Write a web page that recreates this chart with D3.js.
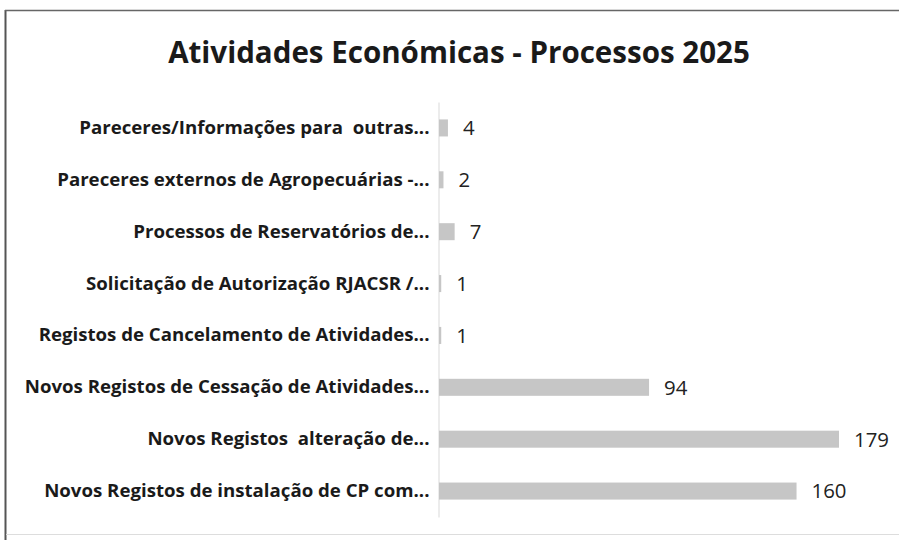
<!DOCTYPE html>
<html>
<head>
<meta charset="utf-8">
<script src="https://cdn.jsdelivr.net/npm/d3@7/dist/d3.min.js"></script>
<style>
  html, body { margin: 0; padding: 0; background: #fff; }
  svg { display: block; }
  text { white-space: pre; }
</style>
</head>
<body>
<svg id="chart" width="899" height="540"></svg>
<script>
// Categories, top to bottom as drawn
const categories = [
  "Pareceres/Informações para  outras...",
  "Pareceres externos de Agropecuárias -...",
  "Processos de Reservatórios de...",
  "Solicitação de Autorização RJACSR /...",
  "Registos de Cancelamento de Atividades...",
  "Novos Registos de Cessação de Atividades...",
  "Novos Registos  alteração de...",
  "Novos Registos de instalação de CP com..."
];
const values = [4, 2, 7, 1, 1, 94, 179, 160];
const chartTitle = "Atividades Económicas - Processos 2025";

const svg = d3.select("#chart");
const W = 899, H = 540;
const font = "'Open Sans', sans-serif";

// Scale a text's font size so that it spans the given width
function fitSize(sel, width) {
  const node = sel.node();
  const fs = parseFloat(sel.attr("font-size"));
  const len = node.getComputedTextLength();
  return fs * width / len;
}

// Outer frame: dark left/top edges, light bottom edge
svg.append("line").attr("x1", 5.5).attr("x2", 5.5).attr("y1", 10).attr("y2", H)
  .attr("stroke", "#555").attr("stroke-width", 2);
svg.append("line").attr("x1", 5).attr("x2", W).attr("y1", 10.5).attr("y2", 10.5)
  .attr("stroke", "#666").attr("stroke-width", 1.5);
svg.append("line").attr("x1", 6).attr("x2", W).attr("y1", 534.5).attr("y2", 534.5)
  .attr("stroke", "#ddd").attr("stroke-width", 1);

// Title
const title = svg.append("text")
  .attr("x", 459).attr("y", 63)
  .attr("text-anchor", "middle")
  .attr("font-family", font)
  .attr("font-weight", "bold")
  .attr("font-size", 26)
  .attr("fill", "#1a1a1a")
  .text(chartTitle);
title.attr("font-size", fitSize(title, 582));

const margin = { left: 439, top: 102, bottom: 517 };
const x = d3.scaleLinear().domain([0, 179]).range([margin.left, 839]);
const y = d3.scaleBand().domain(categories).range([margin.top, margin.bottom]).paddingInner(0.672).paddingOuter(0.336);

// Category axis
const yAxis = d3.axisLeft(y).tickSize(0).tickPadding(9);
const gy = svg.append("g").attr("transform", `translate(${margin.left - 0.5},0)`).call(yAxis);
gy.select(".domain").attr("stroke", "#e6e6e6").attr("stroke-width", 1.5);
const labels = gy.selectAll(".tick text")
  .attr("font-family", font)
  .attr("font-weight", "bold")
  .attr("font-size", 16)
  .attr("fill", "#1a1a1a");
const longest = labels.filter(d => d === categories[5]);
labels.attr("font-size", fitSize(longest, 405));

// Bars
svg.append("g").selectAll("rect")
  .data(values)
  .join("rect")
  .attr("x", x(0))
  .attr("y", (d, i) => y(categories[i]))
  .attr("width", d => x(d) - x(0))
  .attr("height", y.bandwidth())
  .attr("fill", "#c6c6c6");

// Value labels
const vals = svg.append("g").selectAll("text")
  .data(values)
  .join("text")
  .attr("x", d => x(d) + 15)
  .attr("y", (d, i) => y(categories[i]) + y.bandwidth() / 2)
  .attr("dy", "0.36em")
  .attr("font-family", font)
  .attr("font-size", 16)
  .attr("fill", "#222")
  .text(d => d);
vals.attr("font-size", fitSize(vals.filter(d => d === 179), 35));
</script>
</body>
</html>
